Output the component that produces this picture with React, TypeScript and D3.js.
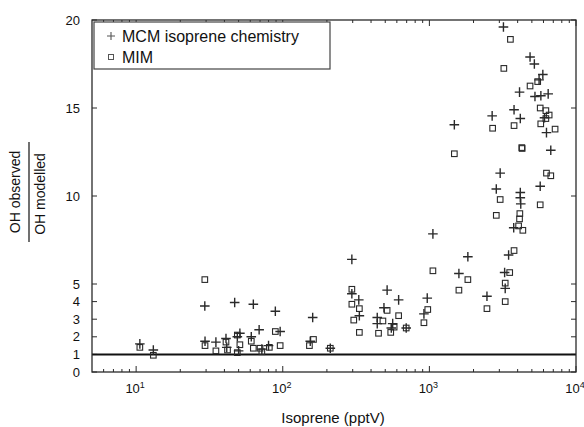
import React from "react";
import * as d3 from "d3";

const mcmX = [10.6, 13.1, 29.4, 47, 63, 89, 29.5, 35, 41, 41.5, 49, 51, 50, 61, 69, 72, 80, 96,
  160, 154, 211, 296, 296, 330, 333, 515, 490, 617, 441, 441, 562, 550, 695, 918, 967, 1057, 1590, 1830, 2470, 3290, 3260, 3470, 3760,
  2680, 3780, 4170, 6290, 6730, 3040, 5700, 2860, 4170, 4170, 4200, 1480, 3200, 4860, 5200, 5940, 5600, 4120, 5250, 5760, 6460, 6100];
const mcmY = [1.6, 1.25, 3.75, 3.95, 3.85, 3.45, 1.75, 1.7, 1.9, 1.4, 2.0, 2.2, 1.2, 2.0, 2.4, 1.3, 1.5, 2.3,
  3.1, 1.75, 1.35, 6.4, 4.45, 4.1, 3.2, 4.65, 3.65, 4.1, 3.1, 2.75, 2.75, 2.5, 2.5, 3.3, 4.2, 7.85, 5.6, 6.55, 4.3, 4.75, 5.65, 6.65, 8.2,
  14.55, 14.9, 14.4, 13.6, 12.6, 11.3, 10.55, 10.4, 10.2, 9.9, 9.55, 14.05, 19.6, 17.9, 17.5, 16.9, 16.6, 15.9, 15.65, 15.7, 15.8, 14.45];

const mimX = [10.6, 13.1, 29.4, 29.5, 35, 41, 42, 49, 51, 49, 61, 63, 70, 72, 81, 89, 96,
  162, 152, 211, 296, 296, 333, 305, 333, 515, 617, 482, 450, 575, 545, 695, 918, 975, 1057, 1830, 1590, 2470, 3290, 3290, 3530, 3780, 4060, 4340, 4120, 4140, 2860,
  2700, 3780, 5700, 6230, 6560, 6230, 5750, 7200, 4270, 4290, 6290, 6730, 3040, 5700, 1480, 3570, 3220, 4860, 5480];
const mimY = [1.4, 0.95, 5.25, 1.5, 1.2, 1.7, 1.25, 2.1, 1.55, 1.1, 1.75, 1.35, 1.35, 1.15, 1.4, 2.3, 1.5,
  1.85, 1.5, 1.35, 4.7, 3.85, 3.6, 2.95, 2.25, 3.5, 3.2, 2.9, 2.2, 2.55, 2.25, 2.5, 2.8, 3.55, 5.75, 5.25, 4.65, 3.6, 4.0, 5.05, 5.65, 6.9, 8.3, 8.05, 8.7, 9.0, 8.9,
  13.85, 14.0, 15.0, 14.85, 14.6, 14.4, 14.1, 13.8, 12.75, 12.7, 11.3, 11.15, 9.8, 9.5, 12.4, 18.9, 17.25, 16.25, 16.5];

const yTicks = [0, 1, 2, 3, 4, 5, 10, 15, 20];
const xMajor = [10, 100, 1000, 10000];
const xExponents = ["1", "2", "3", "4"];
const legendLabels = ["MCM isoprene chemistry", "MIM"];

const W = 584, H = 427;
const L = 92, R = 576, T = 20, B = 372;
const font = "'Liberation Sans', Arial, Helvetica, sans-serif";
const ink = "#2a2a2a";

export default function App() {
  const x = d3.scaleLog().domain([5, 10000]).range([L, R]);
  const y = d3.scaleLinear().domain([0, 20]).range([B, T]);
  const minor: number[] = [];
  [1, 10, 100, 1000].forEach((d) => {
    for (let k = 2; k <= 9; k++) {
      const v = d * k;
      if (v > 5 && v < 10000) minor.push(v);
    }
  });
  const plus = (cx: number, cy: number, s = 4.8) => `M${cx - s},${cy}H${cx + s}M${cx},${cy - s}V${cy + s}`;

  return (
    <svg width={W} height={H} style={{ position: "absolute", left: 0, top: 0, background: "#fff" }} fontFamily={font}>
      {minor.map((v, i) => (
        <g key={"mn" + i} stroke={ink} strokeWidth={1}>
          <line x1={x(v)} x2={x(v)} y1={B} y2={B - 3} />
          <line x1={x(v)} x2={x(v)} y1={T} y2={T + 3} />
        </g>
      ))}
      {xMajor.map((v, i) => (
        <g key={"mj" + i}>
          <line x1={x(v)} x2={x(v)} y1={B} y2={B - 6} stroke={ink} strokeWidth={1} />
          <line x1={x(v)} x2={x(v)} y1={T} y2={T + 6} stroke={ink} strokeWidth={1} />
          <text x={x(v) - 1} y={393} textAnchor="middle" fontSize={13} fill="#111">
            10<tspan dy={-5} fontSize={9}>{xExponents[i]}</tspan>
          </text>
        </g>
      ))}
      {yTicks.map((v, i) => (
        <g key={"yt" + i}>
          <line x1={L} x2={L + 5} y1={y(v)} y2={y(v)} stroke={ink} strokeWidth={1} />
          <line x1={R} x2={R - 5} y1={y(v)} y2={y(v)} stroke={ink} strokeWidth={1} />
          <text x={80} y={y(v)} dy="0.36em" textAnchor="end" fontSize={13} fill="#111">{v}</text>
        </g>
      ))}
      <line x1={L} x2={R} y1={y(1)} y2={y(1)} stroke="#111" strokeWidth={2} />
      {mimX.map((v, i) => (
        <rect key={"s" + i} x={x(v) - 2.8} y={y(mimY[i]) - 2.8} width={5.6} height={5.6} fill="none" stroke={ink} strokeWidth={1.1} />
      ))}
      {mcmX.map((v, i) => (
        <path key={"p" + i} d={plus(x(v), y(mcmY[i]))} stroke={ink} strokeWidth={1.4} fill="none" />
      ))}
      <rect x={L} y={T} width={R - L} height={B - T} fill="none" stroke={ink} strokeWidth={1.3} />
      <rect x={94} y={22} width={236} height={47} fill="#fff" stroke="#444" strokeWidth={1.2} />
      <path d={plus(111, 36, 4)} stroke="#555" strokeWidth={1.1} fill="none" />
      <rect x={108.5} y={54.5} width={5} height={5} fill="none" stroke="#555" strokeWidth={1} />
      <text x={122} y={41.5} fontSize={16} fill="#111">{legendLabels[0]}</text>
      <text x={122} y={62.5} fontSize={16} fill="#111">{legendLabels[1]}</text>
      <text x={333} y={423} textAnchor="middle" fontSize={15} fill="#111">Isoprene (pptV)</text>
      <g transform="translate(20,192) rotate(-90)">
        <text x={0} y={0} textAnchor="middle" fontSize={14} fill="#111">OH observed</text>
      </g>
      <line x1={29} x2={29} y1={142} y2={242} stroke="#111" strokeWidth={1.2} />
      <g transform="translate(45,194) rotate(-90)">
        <text x={0} y={0} textAnchor="middle" fontSize={14} fill="#111">OH modelled</text>
      </g>
    </svg>
  );
}
